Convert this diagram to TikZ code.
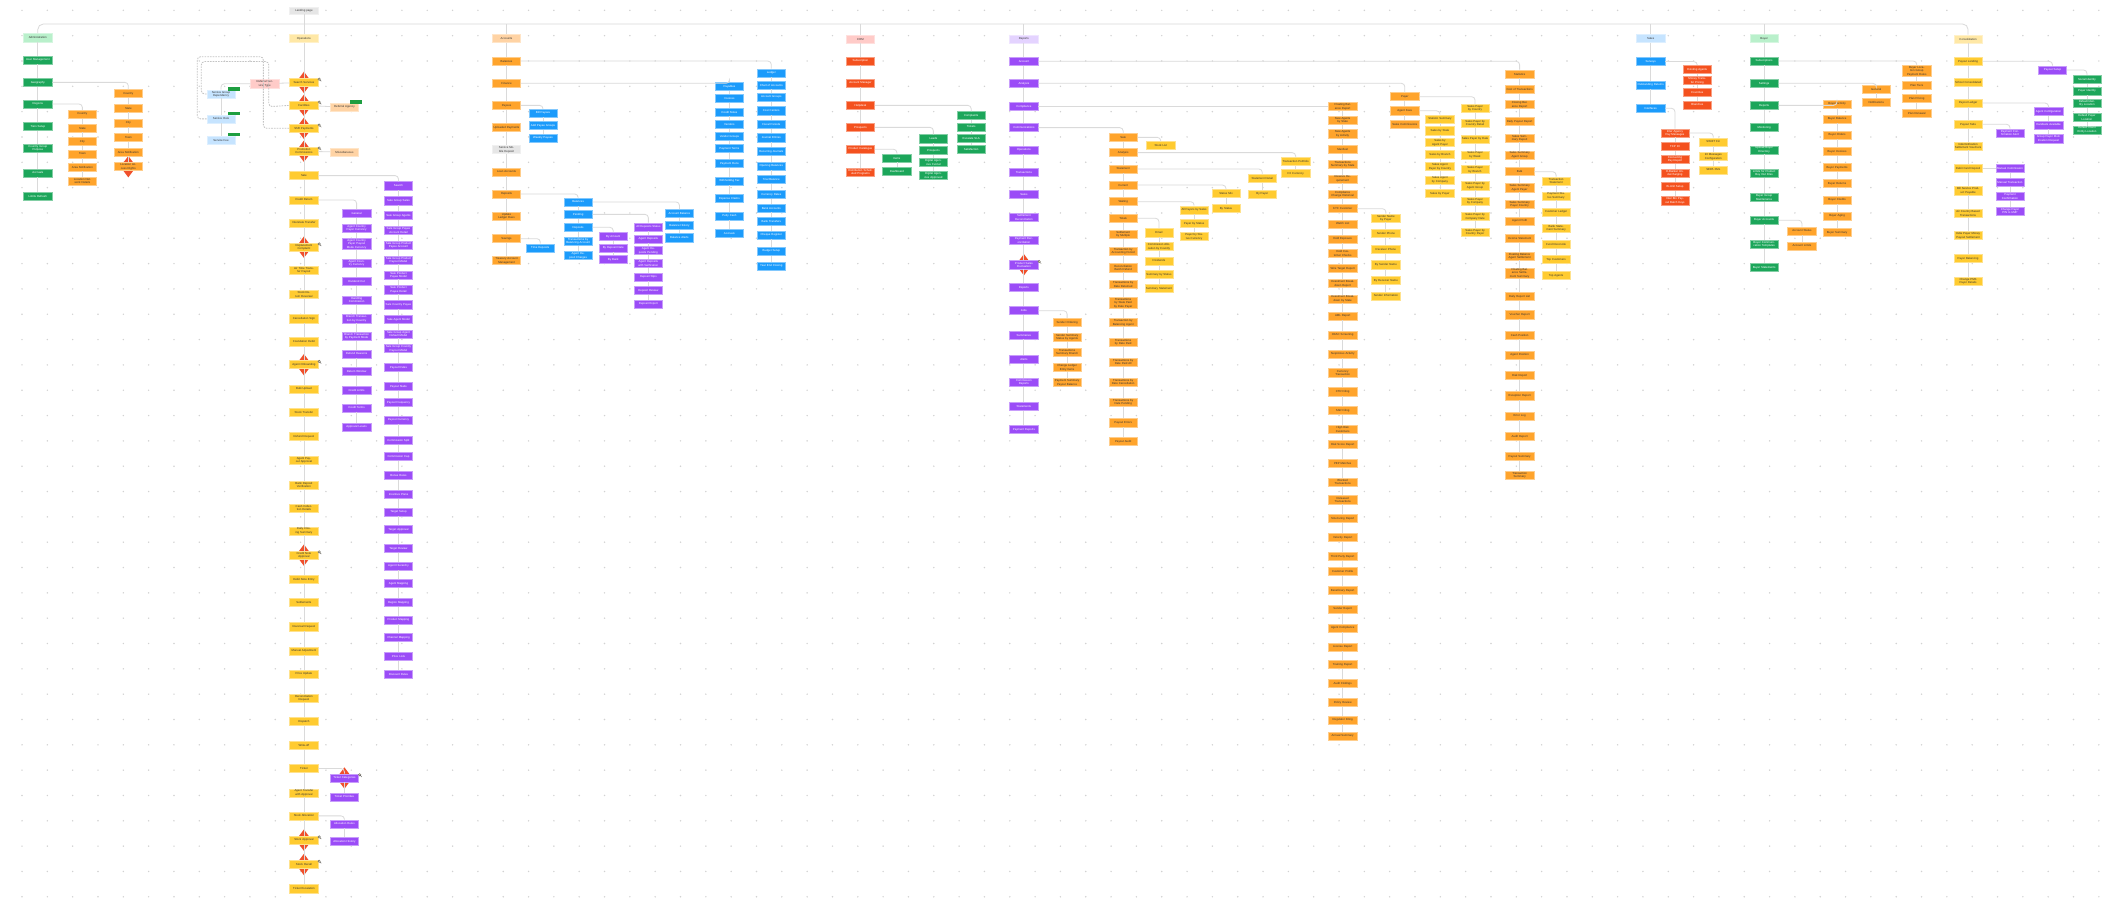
\documentclass[tikz,border=0pt]{standalone}
\usepackage{fontspec}
\setmainfont{Liberation Sans}
\usetikzlibrary{shapes.geometric, positioning, calc}
\definecolor{dotgray}{HTML}{D2D2D2}
\definecolor{linegray}{HTML}{DADADA}
\definecolor{textdark}{HTML}{333333}
\definecolor{greenlight}{HTML}{B9F0CB}
\definecolor{greendark}{HTML}{1CA65A}
\definecolor{yellowlight}{HTML}{FFE8A6}
\definecolor{yellowbox}{HTML}{FFCB30}
\definecolor{orangelight}{HTML}{FFD3A4}
\definecolor{orangebox}{HTML}{FFA42C}
\definecolor{redlight}{HTML}{FFCBC8}
\definecolor{redbox}{HTML}{F4511E}
\definecolor{purplelight}{HTML}{E4D3FF}
\definecolor{purplebox}{HTML}{9B4CF7}
\definecolor{bluelight}{HTML}{C6E4FF}
\definecolor{bluebox}{HTML}{1B9BFB}
\definecolor{graylight}{HTML}{E6E6E6}
\definecolor{diamondred}{HTML}{F0502C}
\definecolor{taggreen}{HTML}{1E9E40}
\definecolor{icongray}{HTML}{6B6B6B}

% vertical list of pages: name, x, style, {y/label,...}
\newcommand{\stack}[4]{%
  \foreach \yy/\lbl [count=\i] in {#4}{%
    \node[#3] (#1-\i) at (#2,\yy) {\lbl};
    \ifnum\i>1
      \pgfmathtruncatemacro{\prv}{\i-1}
      \draw[conn] (#1-\prv.south) -- (#1-\i.north);
    \fi
  }%
}
\newcommand{\link}[2]{\draw[conn] (#1.east) -| (#2.north);}
% small lens mark at a box's upper right
\newcommand{\lens}[1]{\draw[lensmark] ($(#1.east)+(0.6,-2.4)$) circle (0.9pt) ++(0.6,0.6) -- ++(0.9,0.9);}

\begin{document}
\begin{tikzpicture}[
  x=1pt, y=-1pt,
  conn/.style={draw=linegray, line width=0.6pt, rounded corners=2.5pt},
  dconn/.style={conn, dashed, dash pattern=on 1.2pt off 0.8pt, draw=linegray!90!black},
  card/.style={rectangle, minimum width=21pt, minimum height=6pt, text width=19.5pt, inner sep=0.5pt, align=center, font=\fontsize{2.1}{2.5}\selectfont, line width=0.4pt},
  grnhead/.style={card, fill=greenlight, draw=greenlight!60!white, text=textdark},
  grnbox/.style={card, fill=greendark, draw=greendark!55!white, text=white},
  ylwhead/.style={card, fill=yellowlight, draw=yellowlight!60!white, text=textdark},
  ylwbox/.style={card, fill=yellowbox, draw=yellowbox!55!white, text=textdark},
  orghead/.style={card, fill=orangelight, draw=orangelight!60!white, text=textdark},
  orgbox/.style={card, fill=orangebox, draw=orangebox!55!white, text=textdark},
  redhead/.style={card, fill=redlight, draw=redlight!60!white, text=textdark},
  redbx/.style={card, fill=redbox, draw=redbox!55!white, text=white},
  purhead/.style={card, fill=purplelight, draw=purplelight!60!white, text=textdark},
  purbox/.style={card, fill=purplebox, draw=purplebox!55!white, text=white},
  bluhead/.style={card, fill=bluelight, draw=bluelight!60!white, text=textdark},
  blubox/.style={card, fill=bluebox, draw=bluebox!55!white, text=white},
  grybox/.style={card, fill=graylight, draw=graylight!60!white, text=textdark},
  diam/.style={diamond, fill=diamondred, minimum width=12pt, minimum height=16pt, inner sep=0pt},
  tag/.style={rectangle, fill=taggreen, minimum width=9pt, minimum height=2.6pt, inner sep=0pt},
  lensmark/.style={draw=icongray, fill=yellowbox!40!white, line width=0.35pt, line cap=round},
]
\useasboundingbox (0,0) rectangle (1568,674);
\fill[white] (0,0) rectangle (1568,674);
\foreach \gx in {0,...,82}{\foreach \gy in {0,...,35}{\fill[dotgray] ({16.3+18.75*\gx},{7.65+18.75*\gy}) circle (0.6pt);}}

% --- root and section heads ---
\node[grybox, minimum height=4.5pt] (root) at (225,8) {Landing page};
\node[grnhead] (hA) at (28,28) {Administration};
\node[ylwhead] (hB) at (225,28.5) {Operations};
\node[orghead] (hC) at (375,28.6) {Accounts};
\node[redhead] (hD) at (637,28.9) {CRM};
\node[purhead] (hE) at (758,28.9) {Reports};
\node[bluhead] (hF) at (1222,28.4) {Sales};
\node[grnhead] (hG) at (1306,28.4) {Buyer};
\node[ylwhead] (hH) at (1457,28.9) {Consolidation};
\draw[conn] (root.south) -- (225,17.8);
\draw[conn, rounded corners=4pt] (hA.north) |- (1457,17.8) -- (hH.north);
\foreach \h in {hB,hC,hD,hE,hF,hG}{\draw[conn] (\h.north) -- (\h.north |- 0,17.8);}

% --- Administration ---
\stack{A}{28}{grnbox}{44.4/User Management, 61/Geography, 77/Regions, 93.8/Tiers Setup, 110/Country Group Purpose, 128/Accruals, 145.6/Limits Refresh}
\node[diam] at (95,123.4) {};
\stack{Ag}{95}{orgbox}{69.3/Country, 80/State, 91/City, 101.6/Town, 112.6/Area Notification, 123.4/Location Access Rights}
\stack{Ar}{61}{orgbox}{84.6/Country, 94.8/State, 104.6/City, 114/Town, 123.7/Area Notification, 134/Location Network Details}
\draw[conn] (hA) -- (A-1);
\link{A-2}{Ag-1}
\link{A-3}{Ar-1}

% --- Operations ---
\foreach \yy in {61,78,95,112,183,270,411,622,640}{\node[diam] at (225,\yy) {};}
\stack{B}{225}{ylwbox}{61/Search Services, 78/Facilities, 95/Shift Payments, 112/Promotion Commissions, 130/Sale, 148/Credit Return, 165/Interstate Transfer, 183/Replacement Complaint, 200/Air Time Transfer Payout, 218/Stock Return Reversal, 236/Cancellation Sign, 253/Foundation Debit, 270/Agent Onboarding, 288/Bulk Upload, 305/Stock Transfer, 323/Refund Request, 341/Agent Payout Approval, 359/Bank Deposit Verification, 376/Cash Collection Details, 393/Daily Closing Summary, 411/Credit Note Approval, 429/Debit Note Entry, 446/Settlements, 464/Reversal Request, 482/Manual Adjustment, 499/Price Update, 517/Reconciliation Request, 534/Dispatch, 552/Write-off, 569/Ticket, 587/Agent Transfer with Approval, 604/Stock Allocation, 622/Stock Approval, 640/Stock Recall, 658/Ticket Escalation}
\foreach \k in {1,2,3,4,8,13,21,33,34}{\lens{B-\k}}
\draw[conn] (hB) -- (B-1);
\node[redhead] (refer) at (196,62) {Referral Service Type};
\node[bluhead] (lb-1) at (163.6,69.6) {Service Group Dependency};
\node[bluhead] (lb-2) at (163.6,88) {Service Rule};
\node[bluhead] (lb-3) at (163.6,103.9) {Service Fee};
\node[tag] at (173.5,66) {};
\node[tag] at (173.5,84) {};
\node[tag] at (173.5,99.5) {};
\node[orghead] (agency) at (255,79.4) {Referral Agency};
\node[tag] at (263.6,75.5) {};
\node[orghead] (misc) at (255,112.6) {Miscellaneous};
\draw[conn] (refer) -- (B-1);
\draw[conn] (refer.west) -| (lb-1.north);
\draw[conn] (lb-1) -- (lb-2) -- (lb-3);
\draw[conn] (B-2) -- (agency);
\draw[conn] (B-4) -- (misc);
\draw[dconn] (lb-1.west) -| (149,45.6) -| (199,79) -- (B-2.west);
\draw[dconn] (lb-2.west) -| (146,42) -| (195,95) -- (B-3.west);
\stack{Bs}{295}{purbox}{137.5/Search, 148.6/Sale Group Sales, 159.7/Sale Group Agents, 170.5/Sale Group Payee Account Detail, 181.6/Sale Group Product Payee Account, 192.5/Sale Group Product Payout Model, 203.6/Sale Product Payee Model, 214.5/Sale Product Payee Detail, 225.6/Sale Country Payee, 236.4/Sale Agent Model, 247.3/Sale Group Agent Default Model, 258.1/Sale Group Country Payout Model, 272/Payout Rules, 286/Payout Slabs, 298/Payout Frequency, 311/Payout Currency, 326/Commission Split, 338/Commission Cap, 352/Bonus Rules, 366/Incentive Plans, 379/Target Setup, 392/Target Approval, 406/Target Review, 419/Agent Hierarchy, 432/Agent Mapping, 446/Region Mapping, 459/Product Mapping, 472/Channel Mapping, 486/Price Lists, 499/Discount Rules}
\stack{Bc}{264}{purbox}{158/General, 169/Agent Country Payer Currency, 180.6/Agent Country Payer Payout Mode Currency, 195/Agent Country Currency, 208.5/Dividend Cut, 222.3/Handling Commission, 236/Branch Transaction by Country, 249/Branch Transaction by Payment Mode, 262/Refund Reasons, 275/Return Window, 289/Credit Limits, 302/Credit Terms, 316/Approval Levels}
\link{B-5}{Bs-1}
\link{B-6}{Bc-1}
\node[diam] at (255,576) {};
\stack{Bt}{255}{purbox}{576/Ticket Categories, 590/Ticket Priorities}
\stack{Ba}{255}{purbox}{610/Allocation Rules, 623/Allocation History}
\lens{Bt-1}
\link{B-30}{Bt-1}
\link{B-32}{Ba-1}

% --- Accounts ---
\stack{C}{375}{orgbox}{45.2/Balances, 61.7/Finance, 78/Payees, 94.5/Uploaded Payments, 110.8/Service Mobile Deposit, 127.3/Loan Accounts, 143.6/Deposits, 160.1/Update Ledger Dues, 176.7/Savings, 193/Treasury Account Management}
\node[grybox] at (C-5) {Service Mobile Deposit};
\draw[conn] (hC) -- (C-1);
\stack{Cl}{571}{blubox}{54/Ledger, 63/Chart of Accounts, 72/Account Groups, 82/Cost Centers, 92/Fiscal Periods, 102/Journal Entries, 112/Recurring Journals, 123/Opening Balances, 133/Trial Balance, 144/Currency Rates, 154/Bank Accounts, 164/Bank Transfers, 174/Cheque Register, 186/Budget Setup, 197/Year End Closing}
\stack{Cp}{540}{blubox}{64/Payables, 73/Invoices, 83/Credit Notes, 92/Vendors, 101/Vendor Groups, 110/Payment Terms, 121/Payment Runs, 134/Withholding Tax, 147/Expense Claims, 160/Petty Cash, 173/Accruals}
\stack{Cy}{402}{blubox}{83.7/Bill Payees, 93/Add Payee Groups, 102.2/Weekly Payees}
\stack{Cd}{428}{blubox}{149.5/Balances, 158.7/Pending, 168.3/Deposits, 178.7/Transactions by Balancing Account, 189.3/Agent Deposit Charges}
\stack{Cda}{503}{blubox}{158/Account Balance, 167/Balance History, 176/Balance Alerts}
\stack{Cdb}{480}{purbox}{168/All Deposits Status, 177/Agent Deposits, 185.6/Agent Deposits Pending, 195/Agent Deposits with Verification, 205/Deposit Slips, 215/Deposit Review, 225/Deposit Export}
\stack{Cdc}{454}{purbox}{175/By Amount, 183.6/By Deposit Date, 192/By Bank}
\stack{Cs}{400}{blubox}{183.6/Time Deposits}
\link{C-1}{Cl-1}
\link{C-2}{Cp-1}
\link{C-3}{Cy-1}
\link{C-7}{Cd-1}
\link{Cd-1}{Cda-1}
\link{Cd-2}{Cdb-1}
\link{Cd-3}{Cdc-1}
\link{C-9}{Cs-1}

% --- CRM ---
\stack{D}{637}{redbx}{45.2/Subscription, 61.4/Account Manager, 78/Helpdesk, 94.3/Prospects, 110.5/Product Catalogue, 127.6/Distribution Scheduled Programs}
\draw[conn] (hD) -- (D-1);
\stack{Dh}{719}{grnbox}{85.6/Complaints, 94/Tickets, 102.4/Escalate SLA, 110.5/Satisfaction}
\stack{Dp}{691}{grnbox}{102.7/Leads, 111.3/Prospects, 120.4/Digital Agencies Funnel, 130/Digital Agencies Approved}
\stack{Dc}{664}{grnbox}{117/Items, 127/Dashboard}
\link{D-3}{Dh-1}
\link{D-4}{Dp-1}
\link{D-5}{Dc-1}

% --- Reports ---
\node[diam] at (758,196) {};
\stack{E}{758}{purbox}{45.4/Account, 61.7/Analysis, 79/Compliance, 94.5/Communications, 111/Operations, 127.6/Transactions, 144/Sales, 161/Settlement Reconciliation, 178/Payment Reconciliation, 196/Product Sales Fluctuation, 213/Exports, 230/Jobs, 248/Summaries, 266/Alerts, 283/Commission Reports, 301/Statements, 318/Payment Reports}
\lens{E-10}
\draw[conn] (hE) -- (E-1);
\stack{Ea}{1125}{orgbox}{54.8/Statistics, 66.1/Cost of Transactions, 77.5/Closing Balance Report, 90/Daily Payout Report, 102.2/Sales Summary Report, 114.7/Sales Summary Agent Group, 127.1/Bulk, 139/Sales Summary Agent Payer, 151/Sales Summary Payer Country, 163.8/Agent Profit, 176.4/Income Statement, 189.5/Floating Balance Agent Settlement, 202.3/Floating Balance Settlement Summary, 219.6/Daily Report List, 233/Voucher Report, 248/Cash Position, 263/Agent Position, 278/Risk Report, 293/Exception Report, 308/Error Log, 323/Audit Report, 338/Payout Summary, 352/Transaction Summary}
\stack{Eab}{1152}{ylwbox}{134/Transaction Statement, 145/Payment Status Summary, 157/Customer Ledger, 169/Bank Statement Summary, 181/Fund Reconcile, 192/Top Customers, 204/Top Agents}
\stack{Eb}{1040}{orgbox}{71.6/Payer, 82/Agent Fees, 91.8/Sales Commissions}
\stack{Ebf}{1066}{ylwbox}{88.1/Statistic Summary, 96.8/Sales by State, 105.6/Sales by Agent Payer, 114.5/Sales by Branch, 123.4/Sales Agent Payer by Country, 133.2/Sales Agent by Company, 143.1/Sales by Payer}
\stack{Ebp}{1092}{ylwbox}{80.2/Sales Payer by Country, 91.3/Sales Payer by Country Detail, 103.1/Sales Payer by Date, 114.7/Sales Payer by Week, 125.6/Sales Payer by Branch, 137.5/Sales Payer by Agent Group, 148.8/Sales Payer by Company, 160.4/Sales Payer by Company Date, 172/Sales Payer by Country Payer}
\stack{Ec}{994}{orgbox}{79/Floating Balance Report, 89.3/New Agents by State, 99/New Agents by Activity, 110.5/Manifest, 121.6/Transactions Summary by State, 132.5/Reserve Requirement, 143.6/Compliance Change Historical, 154.5/KYC Customer, 165.8/Watch List, 176.9/Hold Exposure, 187.8/Hold Customer Checks, 198.9/Wire Target Report, 210/Investment Breakdown Report, 221.3/Investment Breakdown by State, 234/AML Report, 248/OFAC Screening, 262/Suspicious Activity, 276/Currency Transaction, 290/CTR Filing, 304/SAR Filing, 318/High Risk Customers, 329/Risk Score Report, 343/PEP Matches, 357/Blocked Transactions, 370/Released Transactions, 384/Structuring Report, 398/Velocity Report, 412/Third Party Report, 423/Customer Profile, 437/Beneficiary Report, 451/Sender Report, 465/Agent Compliance, 479/License Report, 492/Training Report, 506/Audit Findings, 520/Policy Review, 533/Regulator Filing, 545/Annual Summary}
\stack{Eck}{1026}{ylwbox}{161.4/Sender Name by Payer, 173/Sender Phone, 184.6/Receiver Phone, 196/By Sender Name, 207.5/By Receiver Name, 219.1/Sender Information}
\stack{Ed}{831.5}{orgbox}{101.7/Sale, 113/Analysis, 125.1/Statement, 137/Current, 149.3/Waiting, 161.6/Totals, 173.5/Settlement by Multiple, 185.8/Transaction by Accounting Period, 198.2/Reconciliation Batch Refund, 210.7/Transactions by Date Returned, 224.3/Transactions by State Paid by Date Payer, 238.9/Transaction by Balancing Agent, 253.4/Transactions by Date Paid, 268.2/Transactions by Date Paid All, 283/Transactions by Date Cancellation, 298/Transactions by Date Pending, 313/Payout Errors, 327/Payout Audit}
\stack{Ed1}{859.3}{ylwbox}{107.8/Stock List}
\stack{Ed2}{959.2}{ylwbox}{119.7/Transaction Portfolio, 128.6/FX Currency}
\stack{Ed3}{934.5}{ylwbox}{132.3/Statement Detail, 143.6/By Payer}
\stack{Ed4}{907.6}{ylwbox}{143.4/Status Mix, 154.5/By Status}
\stack{Ed5}{884}{ylwbox}{155.5/All Payers by Sales, 165.6/Payer by Status, 175.2/Payer by Status Currency}
\stack{Ed6}{858}{ylwbox}{172.3/Email, 182.6/Commission Allocation by Country, 193.2/Dividends, 203.1/Summary by Status, 213.7/Summary Statement}
\stack{Ej}{790}{orgbox}{238.6/Sender Ordering, 249.7/Sender Summary Status by Agents, 260.8/Transactions Summary Branch, 272.2/Change Ledger Entry Items, 283.3/Payment Summary Payout Balance}
\link{E-1}{Ea-1}
\link{Ea-7}{Eab-1}
\link{E-2}{Eb-1}
\link{Eb-2}{Ebf-1}
\link{Eb-1}{Ebp-1}
\draw[conn] (E-3) -- (Ec-1);
\link{Ec-8}{Eck-1}
\link{E-4}{Ed-1}
\link{Ed-1}{Ed1-1}
\link{Ed-2}{Ed2-1}
\link{Ed-3}{Ed3-1}
\link{Ed-4}{Ed4-1}
\link{Ed-5}{Ed5-1}
\link{Ed-6}{Ed6-1}
\link{E-12}{Ej-1}

% --- Sales ---
\stack{F}{1222}{blubox}{45.6/Surveys, 63/Outstanding Returns, 80.2/Interfaces}
\draw[conn] (hF) -- (F-1);
\stack{Fs}{1256.5}{redbx}{51.3/Existing Agents, 59.7/Money Transfer Pricing, 68.6/Countries, 77.7/Branches}
\stack{Fi}{1240}{redbx}{98.5/Inter Agency Pay Messages, 108.6/TCP IO, 118/Connecting Pay Report, 128.3/E-Banker Undercharging, 138.2/Bi-Unit Setup, 148.6/Inter Bin Payout Batch Keys}
\stack{Fm}{1268.4}{ylwbox}{105/SWIFT Fin, 116/Int Messages Configuration, 125.8/SEPA XML}
\link{F-1}{Fs-1}
\link{F-3}{Fi-1}
\link{Fi-1}{Fm-1}

% --- Buyer ---
\stack{G}{1306}{grnbox}{45.2/Subscriptions, 61.7/Settings, 78/Reports, 94.3/Monitoring, 111/Upload Buyer Directory, 128.3/Limits for Product Buy Out Files, 146.3/Buyer Group Maintenance, 163/Buyer Accounts, 181/Buyer Communication Templates, 198/Buyer Statements}
\draw[conn] (hG) -- (G-1);
\stack{Gs}{1419}{orgbox}{52.6/Buyer Location Group Payment Rules, 63.2/Plan Tiers, 73/Plan Pricing, 84/Plan Renewal}
\stack{Gt}{1389}{orgbox}{66/General, 76/Notifications}
\stack{Gr}{1360}{orgbox}{77/Buyer Activity, 88/Buyer Balance, 100/Buyer Orders, 112/Buyer Invoices, 124/Buyer Payments, 136/Buyer Returns, 148/Buyer Credits, 160/Buyer Aging, 172/Buyer Summary}
\stack{Ga}{1334}{orgbox}{171/Account Status, 182/Account Limits}
\link{G-1}{Gs-1}
\link{G-2}{Gt-1}
\link{G-3}{Gr-1}
\link{G-8}{Ga-1}

% --- Consolidation ---
\stack{H}{1457}{ylwbox}{45.4/Payout Lending, 61/School Consolidated, 76.3/Payout Ledger, 92/Payout Tabs, 108/Indemnification Settlement Vouchers, 124.6/Debit Card Deposit, 141.2/Bill Service Product Payable, 158/Air Country Based Transactions, 174.5/India Payer Money Payout Settlement, 191.5/Payer Balancing, 208/Change PMS Payer Details}
\draw[conn] (hH) -- (H-1);
\stack{Hp}{1519.5}{purbox}{51.8/Payout Setup}
\stack{Hi}{1545}{grnbox}{58.7/Social Identity, 67.4/Payer Identity, 76.5/Default Identity Location, 86.9/Default Payer Location, 96.2/Default Client Entity Location}
\stack{Ha}{1516.6}{purbox}{82.7/Agent Configuration, 92.5/Handsets Available, 102.7/Group Payer Modification Request}
\stack{Hc}{1488}{purbox}{98.5/Payment Confirmation Alert}
\stack{Hm}{1488}{purbox}{124.6/Manual Commission, 135/Manual Transaction, 145.6/Payment Confirmation, 156.2/Change Payer PIN to UMP}
\link{H-1}{Hp-1}
\link{Hp-1}{Hi-1}
\link{H-3}{Ha-1}
\link{H-4}{Hc-1}
\draw[conn] (H-6) -- (Hm-1);
\end{tikzpicture}
\end{document}
